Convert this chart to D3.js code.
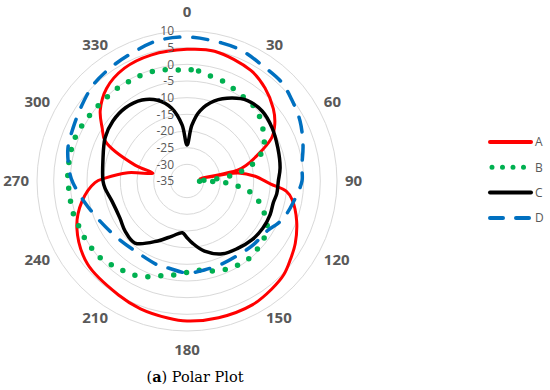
<!DOCTYPE html>
<html>
<head>
<meta charset="utf-8">
<script src="https://cdn.jsdelivr.net/npm/d3@7"></script>
<style>
    body { margin: 0; background: #fff; }
</style>
</head>
<body>
<div id="wrapper"></div>
<script>
// angles in degrees (clockwise from top), values in dB
const anglesA = [0, 12, 30, 40, 50, 57, 63, 71, 75, 78, 79.5, 81, 86, 92, 96, 100, 110, 120, 127, 134, 142, 152, 167, 180, 188, 200, 211, 230, 247, 259, 269, 272, 278, 283, 287, 296, 302, 309, 319, 331, 344];
const valuesA = [4.5, 4.8, 3.3, 1.4, -1.2, -3.6, -6.5, -13.4, -16.5, -19.5, -31, -19.5, -14.5, -10, -5, -3, 0, 2.5, 3.9, 5.4, 6.2, 7, 7.1, 7, 6.5, 5.8, 4.9, 3.9, 0.9, -2.9, -7.4, -10.4, -17.1, -24.5, -18.7, -7.7, -5, -1.5, 1.8, 3.7, 4.3];

const anglesB = [0, 6, 12, 20, 27, 35, 43, 49, 57, 65, 71, 77, 81, 84, 87, 90, 92, 95, 98.5, 104, 111, 117, 125, 133, 141, 149, 156, 164, 173, 180, 189, 196, 203, 210, 217, 223, 230, 236, 243, 250, 256, 263, 269, 275, 282, 288, 294, 301, 308, 315, 322, 328, 334, 341, 348, 355];
const valuesB = [-1.6, -1.8, -2.7, -3.2, -4, -4.7, -5, -6, -7.7, -9.5, -11.9, -15.6, -19.5, -23, -28, -32.5, -24.5, -20.6, -16.8, -13.4, -10.6, -8, -6.4, -5.7, -5.2, -5.5, -6, -6.9, -8, -7.6, -6.4, -5.4, -3.8, -2.5, -1.8, -1, -0.1, 0, 0.2, 0.2, 0.6, 0.4, 0.7, 0.85, 0.9, 1, 0.9, 0.4, 0, -0.2, -0.2, -0.4, -0.4, -0.5, -0.9, -1.6];

const anglesC = [0, 5, 10.5, 19, 28.5, 37, 47, 58, 70, 82, 90, 98, 104, 112, 122, 132, 143, 154, 166, 175, 180, 185, 195, 206, 220, 231, 241, 255, 265, 270, 283, 298, 309, 320, 331, 340, 348, 355];
const valuesC = [-24.2, -18.2, -13.6, -9.6, -6.7, -4.8, -4.2, -4.9, -6, -6.8, -7.6, -7.8, -8.3, -8.1, -8.2, -8.7, -9.7, -10.7, -13.3, -16.3, -18, -19.4, -17.9, -15, -10.7, -11.1, -12, -11.7, -10.3, -9.8, -9.1, -7.2, -6.4, -6.3, -7.2, -9.2, -12.6, -18.1];

const anglesD = [0, 14, 23, 33, 44, 52, 62, 73, 83, 90, 102, 110, 115, 122, 134, 145, 157, 169, 180, 192, 199, 214, 230, 245, 258, 269, 273, 285, 295, 306, 316, 326, 337, 348];
const valuesD = [8.2, 7.7, 7.4, 6.4, 6, 4.8, 3.4, 1.4, -0.3, -0.5, -2.6, -3.8, -4.9, -6.7, -7.4, -8, -8, -7.8, -7.4, -8.3, -8.3, -8.9, -8.1, -6.3, -3.7, -0.8, 0.1, 2, 2.7, 3.9, 5.3, 6, 6.8, 8];

const seriesNames = ["A", "B", "C", "D"];
const radialTicks = [-35, -30, -25, -20, -15, -10, -5, 0, 5, 10];
const angleTicks = [0, 30, 60, 90, 120, 150, 180, 210, 240, 270, 300, 330];
const caption = "Polar Plot";

const dimension = {
    width: 550,
    height: 390,
    cx: 187,
    cy: 181,
    radius: 150
};

const svg = d3.select("#wrapper").append("svg")
    .attr("width", dimension.width)
    .attr("height", dimension.height)
    .style("font-family", "'Open Sans', sans-serif");

const rScale = d3.scaleLinear()
    .domain([radialTicks[0], radialTicks[radialTicks.length - 1]])
    .range([0, dimension.radius]);

const toRad = (deg) => deg * Math.PI / 180;

const polar = svg.append("g")
    .attr("transform", `translate(${dimension.cx},${dimension.cy})`);

// grid circles
polar.selectAll(".ring")
    .data(radialTicks.slice(1))
    .join("circle")
    .attr("class", "ring")
    .attr("r", d => rScale(d))
    .attr("fill", "none")
    .attr("stroke", "#d9d9d9")
    .attr("stroke-width", 1);

const styles = [
    { color: "#ff0000", width: 3, dash: null },
    { color: "#00b050", width: 5.5, dash: "0,13" },
    { color: "#000000", width: 3.5, dash: null },
    { color: "#0070c0", width: 3.5, dash: "15,13" }
];

const seriesData = [
    d3.zip(anglesA, valuesA),
    d3.zip(anglesB, valuesB),
    d3.zip(anglesC, valuesC),
    d3.zip(anglesD, valuesD)
];

const lineGenerator = d3.lineRadial()
    .angle(d => toRad(d[0]))
    .radius(d => rScale(d[1]))
    .curve(d3.curveCatmullRomClosed.alpha(0.5));

seriesData.forEach((data, i) => {
    polar.append("path")
        .attr("d", lineGenerator(data))
        .attr("fill", "none")
        .attr("stroke", styles[i].color)
        .attr("stroke-width", styles[i].width)
        .attr("stroke-dasharray", styles[i].dash)
        .attr("stroke-linecap", "round")
        .attr("stroke-linejoin", "round");
});

// radial tick labels
polar.selectAll(".rlabel")
    .data(radialTicks)
    .join("text")
    .attr("class", "rlabel")
    .attr("x", -13)
    .attr("y", d => -rScale(d))
    .attr("dy", "0.35em")
    .attr("text-anchor", "end")
    .attr("font-size", 12)
    .attr("fill", "#595959")
    .text(d => d);

// angle labels, anchored just outside the outer ring
const labelR = 158;
polar.selectAll(".alabel")
    .data(angleTicks)
    .join("text")
    .attr("class", "alabel")
    .attr("x", d => labelR * Math.sin(toRad(d)))
    .attr("y", d => {
        const c = Math.cos(toRad(d));
        return Math.abs(c) > 0.99 ? -(labelR + 11) * c : -labelR * c;
    })
    .attr("dy", "0.36em")
    .attr("text-anchor", d => {
        const s = Math.sin(toRad(d));
        return s > 0.01 ? "start" : (s < -0.01 ? "end" : "middle");
    })
    .attr("font-size", 15)
    .attr("font-weight", "bold")
    .attr("fill", "#595959")
    .text(d => d);

// legend
const legend = svg.append("g")
    .attr("transform", "translate(490,142)");

seriesNames.forEach((name, i) => {
    const row = legend.append("g")
        .attr("transform", `translate(0,${i * 25.3})`);
    row.append("line")
        .attr("x1", i == 1 ? 2 : 0)
        .attr("x2", 41)
        .attr("stroke", styles[i].color)
        .attr("stroke-width", i == 1 ? 5 : 4)
        .attr("stroke-dasharray", i == 1 ? "0,10.5" : (i == 3 ? "13,13" : null))
        .attr("stroke-linecap", "round");
    row.append("text")
        .attr("x", 45)
        .attr("dy", "0.36em")
        .attr("font-size", 12)
        .attr("fill", "#595959")
        .text(name);
});

// caption
const cap = svg.append("text")
    .attr("x", 195)
    .attr("y", 382)
    .attr("text-anchor", "middle")
    .attr("font-family", "'DejaVu Serif', serif")
    .attr("font-size", 14.5)
    .attr("fill", "#000");
cap.append("tspan").text("(");
cap.append("tspan").attr("font-weight", "bold").text("a");
cap.append("tspan").text(") " + caption);
</script>
</body>
</html>
